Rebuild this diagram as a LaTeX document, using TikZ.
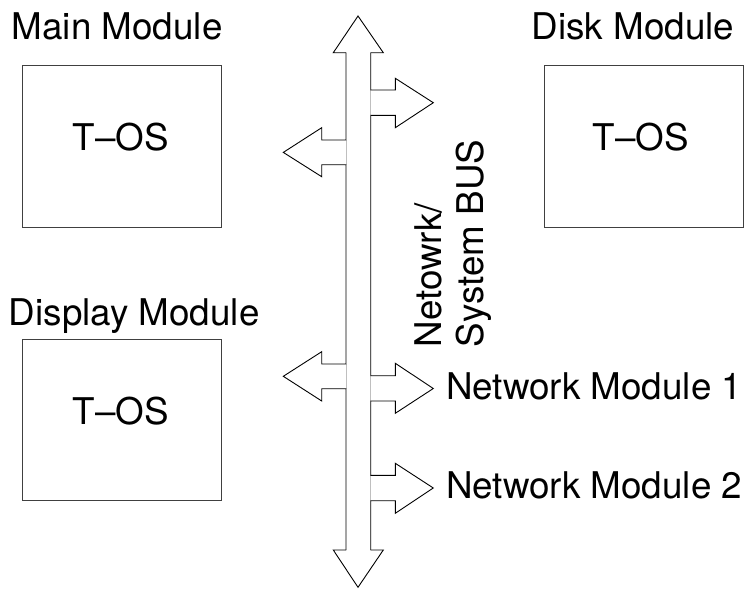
\documentclass[tikz,border=0pt]{standalone}
\usepackage{fontspec}
\setmainfont{TeX Gyre Heros}
\begin{document}
\begin{tikzpicture}[x=1pt,y=-1pt,
  lbl/.style={font=\fontsize{36.8}{42}\selectfont,inner sep=0pt,anchor=base},
  modbox/.style={draw=black!75,line width=1pt},
  busline/.style={draw=black,line width=0.9pt,line join=miter},
  gapline/.style={draw=black!25,line width=0.9pt}]
\useasboundingbox (0,0) rectangle (748,589);
% module boxes
\draw[modbox] (22.7,65.7) rectangle (221.7,227.7);
\draw[modbox] (544.3,65.7) rectangle (743.3,227.7);
\draw[modbox] (22.7,339) rectangle (221.7,500.7);
% labels
\node[lbl] (mainlbl) at (117.2,39.3) {Main Module};
\node[lbl] (disklbl) at (633,39.3) {Disk Module};
\node[lbl] (displbl) at (134.2,325) {Display Module};
\node[lbl] (mainos) at (121,150.7) {T–OS};
\node[lbl] (diskos) at (640.8,150.7) {T–OS};
\node[lbl] (dispos) at (121,424) {T–OS};
\node[lbl] (net1) at (594.2,399.3) {Network Module 1};
\node[lbl] (net2) at (594.2,498.3) {Network Module 2};
\node[lbl,anchor=base west,rotate=90] (buslbl1) at (441.7,347.5) {Netowrk/};
\node[lbl,anchor=base west,rotate=90] (buslbl2) at (483.3,347.5) {System BUS};
% bus gaps (faint)
\draw[gapline] (346,140) -- (346,164.7);
\draw[gapline] (346,364) -- (346,388.7);
\draw[gapline] (370.7,90) -- (370.7,115.3);
\draw[gapline] (370.7,375.7) -- (370.7,401);
\draw[gapline] (370.7,475.3) -- (370.7,500.7);
% bus top arrowhead
\draw[busline] (346,52.7) -- (333.3,52.7) -- (358,16) -- (383.3,52.7) -- (370.7,52.7);
% bus bottom arrowhead
\draw[busline] (346,550) -- (333.3,550) -- (358,587.3) -- (383.3,550) -- (370.7,550);
% left side of bus with two left branches
\draw[busline] (346,52.7) -- (346,140) -- (321.7,140) -- (321.7,127.7) -- (283.3,152.4) -- (321.7,176.7) -- (321.7,164.7) -- (346,164.7)
  -- (346,364) -- (321.7,364) -- (321.7,351.7) -- (283.3,376.3) -- (321.7,401) -- (321.7,388.7) -- (346,388.7) -- (346,550);
% right side of bus with three right branches
\draw[busline] (370.7,52.7) -- (370.7,90) -- (395.3,90) -- (395.3,78.3) -- (433.3,102.7) -- (395.3,127.7) -- (395.3,115.3) -- (370.7,115.3)
  -- (370.7,375.7) -- (395.3,375.7) -- (395.3,363.3) -- (433.3,388.5) -- (395.3,413.3) -- (395.3,401) -- (370.7,401)
  -- (370.7,475.3) -- (395.3,475.3) -- (395.3,463.3) -- (433.3,488) -- (395.3,513.3) -- (395.3,500.7) -- (370.7,500.7) -- (370.7,550);
\end{tikzpicture}
\end{document}
